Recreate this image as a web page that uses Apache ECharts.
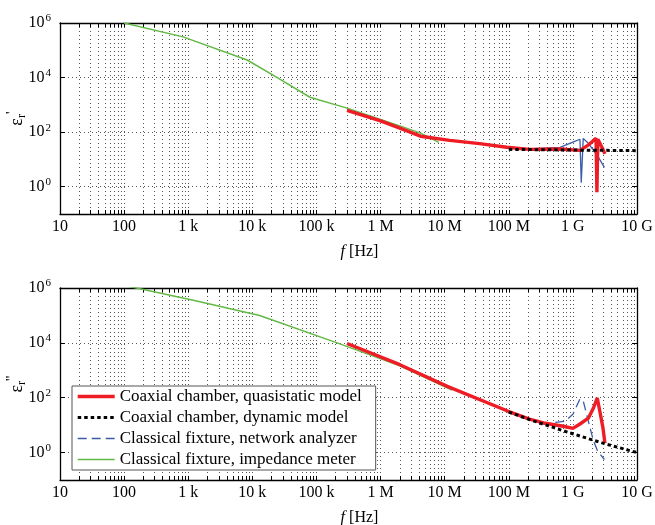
<!DOCTYPE html>
<html><head><meta charset="utf-8">
<script src="https://cdn.jsdelivr.net/npm/echarts@6/dist/echarts.min.js"></script>
<style>html,body{margin:0;padding:0;background:#fff}#c{width:655px;height:525px}</style>
</head><body><div id="c"></div>
<script>
// ---- tick labels / names ----
const xTickLabels = ['10','100','1 k','10 k','100 k','1 M','10 M','100 M','1 G','10 G'];
const yTickExps = [0, 2, 4, 6];
const seriesNames = ['Coaxial chamber, quasistatic model','Coaxial chamber, dynamic model','Classical fixture, network analyzer','Classical fixture, impedance meter'];

// ---- top panel: eps_r' ----
const realQsF  = [3.0e5, 1.0e6, 2.0e6, 4.2e6, 1.2e7, 3.5e7, 9.3e7, 2.1e8, 6.3e8, 1.29e9, 1.78e9, 2.14e9, 2.3e9, 2.37e9, 2.45e9, 2.9e9, 3.16e9];
const realQsV  = [630, 260, 140, 71, 50, 38, 28, 23.4, 24, 21.4, 35, 52, 60, 0.63, 55, 25, 16];
const realDynF = [1.0e8, 1.0e9, 1.0e10];
const realDynV = [23.4, 22, 21];
const realNaF  = [3.0e5, 1.0e6, 2.0e6, 4.2e6, 1.2e7, 3.5e7, 9.3e7, 2.1e8, 6.3e8, 1.0e9, 1.29e9, 1.35e9, 1.45e9, 1.74e9, 2.4e9, 3.1e9];
const realNaV  = [660, 270, 145, 74, 51, 39, 28.5, 24.5, 27.5, 43, 55, 1.4, 59, 39, 14, 5.1];
const realImF  = [100, 830, 8300, 2.45e4, 7.9e4, 3.0e5, 2.0e6, 4.2e6, 8.1e6];
const realImV  = [1.0e6, 3.1e5, 4.4e4, 1.0e4, 1.9e3, 760, 170, 92, 42];

// ---- bottom panel: eps_r'' ----
const imagQsF  = [3.0e5, 2.0e6, 1.1e7, 9.8e7, 2.1e8, 3.5e8, 7.1e8, 1.0e9, 1.29e9, 1.74e9, 2.1e9, 2.4e9, 2.63e9, 2.95e9, 3.16e9];
const imagQsV  = [9.5e3, 1.6e3, 260, 32, 16.6, 12, 9.1, 7.6, 11, 18, 43, 98, 32, 7.8, 2.2];
const imagDynF = [1.0e8, 2.1e8, 7.0e8, 2.1e9, 3.4e9, 1.0e10];
const imagDynV = [30, 16, 6.3, 2.8, 2.0, 1.0];
const imagNaF  = [3.0e5, 2.0e6, 1.1e7, 9.8e7, 3.5e8, 7.6e8, 1.0e9, 1.29e9, 1.45e9, 1.74e9, 2.1e9, 2.45e9, 3.1e9];
const imagNaV  = [9.0e3, 1.55e3, 250, 32, 11, 14, 25, 91, 76, 14, 2.6, 1.1, 0.56];
const imagImF  = [100, 1.2e3, 1.3e4, 2.1e5, 2.0e6, 1.3e7];
const imagImV  = [1.25e6, 3.6e5, 1.0e5, 1.0e4, 1.45e3, 190];

// ---- helpers ----
const FONT = 'Liberation Serif';
const tickPos = [];
for (let n = 1; n <= 9; n++) for (let k = 1; k <= 9; k++) tickPos.push(Math.log10(k * Math.pow(10, n)));
tickPos.push(10);
const decadePos = xTickLabels.map((_, i) => i + 1);
const gridLine = {show: true, lineStyle: {color: '#555', width: 1, type: [1, 3]}};
const axLine = {show: true, onZero: false, lineStyle: {color: '#000', width: 1.3}};

function xAxes(g) {
  return [
    {type: 'value', gridIndex: g, position: 'bottom', min: 1, max: 10,
     axisLine: axLine,
     axisTick: {show: true, inside: true, length: 4, customValues: tickPos, lineStyle: {color: '#000', width: 1}},
     axisLabel: {show: true, customValues: decadePos, margin: 5, color: '#000', fontFamily: FONT, fontSize: 16,
                 formatter: v => xTickLabels[Math.round(v) - 1]},
     splitLine: gridLine,
     name: '{i|f} [Hz]', nameLocation: 'middle', nameGap: 30,
     nameTextStyle: {color: '#000', fontFamily: FONT, fontSize: 16, padding: [0, 0, 0, 22],
                     rich: {i: {fontStyle: 'italic', fontFamily: FONT, fontSize: 16, color: '#000'}}}},
    {type: 'value', gridIndex: g, position: 'top', min: 1, max: 10,
     axisLine: axLine,
     axisTick: {show: true, inside: true, length: 4, customValues: tickPos, lineStyle: {color: '#000', width: 1}},
     axisLabel: {show: false}, splitLine: {show: false}}
  ];
}
function yAxes(g, primes) {
  return [
    {type: 'value', gridIndex: g, position: 'left', min: -1, max: 6,
     axisLine: axLine,
     axisTick: {show: true, inside: true, length: 5, customValues: yTickExps, lineStyle: {color: '#000', width: 1}},
     axisLabel: {show: true, customValues: yTickExps, margin: 9, color: '#000',
                 formatter: v => '{b|10}{s|' + Math.round(v) + '}',
                 rich: {b: {fontFamily: FONT, fontSize: 16, color: '#000', lineHeight: 20},
                        s: {fontFamily: FONT, fontSize: 11, color: '#000', lineHeight: 20, verticalAlign: 'top', padding: [0, 0, 0, 1]}}},
     splitLine: gridLine,
     name: '{e|ε}{r|r}{p|' + primes + '}', nameLocation: 'middle', nameRotate: 90, nameGap: 30,
     nameMoveOverlap: false,
     nameTextStyle: {rich: {e: {fontFamily: FONT, fontSize: 18, color: '#000'},
                            r: {fontFamily: FONT, fontSize: 12, color: '#000', padding: [8, 0, 0, 0]},
                            p: {fontFamily: FONT, fontSize: 15, color: '#000', padding: [0, 0, 10, 0]}}}},
    {type: 'value', gridIndex: g, position: 'right', min: -1, max: 6,
     axisLine: axLine,
     axisTick: {show: true, inside: true, length: 5, customValues: yTickExps, lineStyle: {color: '#000', width: 1}},
     axisLabel: {show: false}, splitLine: {show: false}}
  ];
}

const styles = [
  {color: '#ee1c25', width: 3.4, type: 'solid', z: 4},
  {color: '#000000', width: 3, type: [3.5, 3], z: 5},
  {color: '#3a5ca8', width: 1.3, type: [9, 5], z: 3},
  {color: '#62b946', width: 1.5, type: 'solid', z: 2}
];
function mk(idx, g, f, v, overrideType) {
  const s = styles[idx];
  return {
    name: seriesNames[idx], type: 'line', xAxisIndex: g * 2, yAxisIndex: g * 2,
    data: f.map((x, i) => [Math.log10(x), Math.log10(v[i])]),
    showSymbol: false, symbol: 'none', silent: true, z: s.z, color: s.color,
    lineStyle: {color: s.color, width: s.width, type: overrideType || s.type}
  };
}

const series = [
  mk(0, 1, imagQsF, imagQsV), mk(1, 1, imagDynF, imagDynV), mk(2, 1, imagNaF, imagNaV), mk(3, 1, imagImF, imagImV),
  mk(0, 0, realQsF, realQsV), mk(1, 0, realDynF, realDynV), mk(2, 0, realNaF, realNaV, 'solid'), mk(3, 0, realImF, realImV)
];

const chart = echarts.init(document.getElementById('c'), null, {renderer: 'canvas'});
chart.setOption({
  animation: false,
  backgroundColor: '#fff',
  grid: [
    {left: 60, top: 23, width: 577, height: 191, containLabel: false, outerBoundsMode: 'none'},
    {left: 60, top: 288, width: 577, height: 192, containLabel: false, outerBoundsMode: 'none'}
  ],
  xAxis: [...xAxes(0), ...xAxes(1)],
  yAxis: [...yAxes(0, "'"), ...yAxes(1, "''")],
  legend: {
    data: seriesNames, orient: 'vertical', left: 72, top: 386,
    itemWidth: 37, itemHeight: 15, itemGap: 4, padding: [2, 14, 2, 4],
    itemStyle: {opacity: 0}, lineStyle: {width: 'inherit'},
    borderColor: '#555', borderWidth: 1, backgroundColor: '#fff', selectedMode: false,
    textStyle: {fontFamily: FONT, fontSize: 17, color: '#000'}, z: 10
  },
  series: series
});
</script></body></html>
